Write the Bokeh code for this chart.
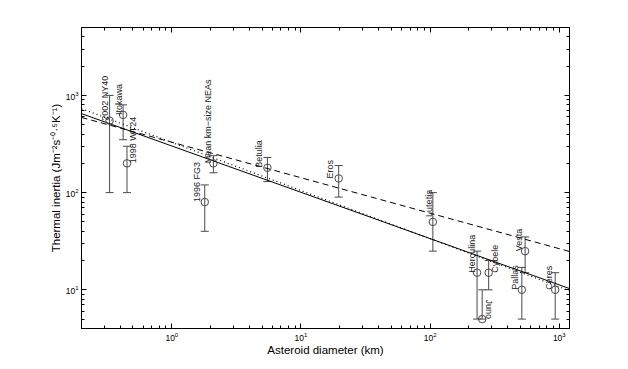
import math
from bokeh.plotting import figure
from bokeh.models import (ColumnDataSource, Whisker, TeeHead, LogAxis, FixedTicker,
                          CustomJSTickFormatter, Range1d)
from bokeh.embed import file_html
from bokeh.resources import INLINE
from bokeh.core.properties import value

# ---- data ----
names = ["2002 NY40", "Itokawa", "1998 WT24", "1996 FG3", "Mean km\u2212size NEAs",
         "Betulia", "Eros", "Lutetia", "Herculina", "Juno", "Cybele", "Pallas",
         "Vesta", "Ceres"]
diameter = [0.33, 0.42, 0.45, 1.8, 2.1, 5.5, 19.6, 105, 231, 253, 284, 513, 544, 930]
inertia = [550, 630, 200, 80, 200, 180, 140, 50, 15, 5, 15, 10, 25, 10]
err_low = [100, 350, 100, 40, 160, 130, 90, 25, 5, 5, 10, 5, 15, 5]
err_high = [1000, 800, 300, 120, 240, 230, 190, 100, 25, 10, 20, 17, 35, 15]

# fitted power-law lines, end values read at the axis limits
line_x = [0.2, 1200]
fit_solid = [650, 10.3]
fit_dashed = [594, 24.8]
fit_dotted = [730, 9.8]

x_limits = (0.2, 1200)
y_limits = (4, 5000)

# ---- label styling (orientation / offsets in screen pixels) ----
label_down = [False] * 9 + [True] + [False] * 4     # Juno reads top-to-bottom
label_dx = [-5, -4, 6, -7.5, -5, -8.5, -9, -4, -5.5, 6.5, 6, -6.4, -6, -6]
label_dy = [0, 0, 0, 0, 0, 0, 0, -5, 0, 0, 0, 0, 0, 0]

FONT = "Liberation Sans"
GREY = "#4a4a4a"

p = figure(width=628, height=369, x_axis_type="log", y_axis_type="log",
           x_range=Range1d(*x_limits), y_range=Range1d(*y_limits),
           output_backend="svg", toolbar_location=None,
           min_border_left=81, min_border_right=59, min_border_top=27,
           min_border_bottom=41)
p.grid.visible = False
p.background_fill_color = "white"
p.border_fill_color = "white"
p.outline_line_color = "black"
p.outline_line_width = 1

major = [10.0 ** k for k in range(-1, 5)]
minor = [m * 10.0 ** k for k in range(-1, 4) for m in range(2, 10)]


def style_axis(ax, labels=True):
    ax.ticker = FixedTicker(ticks=major, minor_ticks=minor)
    ax.major_tick_in = 5
    ax.major_tick_out = 0
    ax.minor_tick_in = 3
    ax.minor_tick_out = 0
    ax.axis_line_color = "black"
    ax.major_tick_line_color = "black"
    ax.minor_tick_line_color = "black"
    ax.major_label_text_font = FONT
    ax.major_label_text_font_size = "8.5px"
    ax.major_label_text_color = "black"
    ax.major_label_standoff = 3
    if not labels:
        ax.formatter = CustomJSTickFormatter(code="return ''")


style_axis(p.xaxis[0])
style_axis(p.yaxis[0])
p.xaxis.axis_label = "Asteroid diameter (km)"
p.yaxis.axis_label = "Thermal inertia (Jm\u207b\u00b2s\u207b\u2070\u00b7\u2075K\u207b\u00b9)"
for ax in (p.xaxis[0], p.yaxis[0]):
    ax.axis_label_text_font = FONT
    ax.axis_label_text_font_size = "11.5px"
    ax.axis_label_text_font_style = "normal"
    ax.axis_label_text_color = "black"
p.xaxis.axis_label_standoff = 0
p.yaxis.axis_label_standoff = 1

top_ax = LogAxis()
right_ax = LogAxis()
style_axis(top_ax, labels=False)
style_axis(right_ax, labels=False)
p.add_layout(top_ax, "above")
p.add_layout(right_ax, "right")

# fit lines
p.line(line_x, fit_solid, line_color="black", line_width=1)
p.line(line_x, fit_dashed, line_color="black", line_width=1, line_dash="6 4")
p.line(line_x, fit_dotted, line_color="black", line_width=1.2, line_dash="1 3")

src = ColumnDataSource(dict(d=diameter, t=inertia, lo=err_low, hi=err_high))

w = Whisker(source=src, base="d", upper="hi", lower="lo", dimension="height",
            line_color=GREY, line_width=1,
            upper_head=TeeHead(size=8, line_color=GREY, line_width=1),
            lower_head=TeeHead(size=8, line_color=GREY, line_width=1))
p.add_layout(w)

p.scatter("d", "t", source=src, marker="circle", size=7.5, fill_color=None,
          line_color=GREY, line_width=1)


def label_source(down):
    idx = [i for i, dflag in enumerate(label_down) if dflag == down]
    return ColumnDataSource(dict(d=[diameter[i] for i in idx],
                                 t=[inertia[i] for i in idx],
                                 name=[names[i] for i in idx],
                                 dx=[label_dx[i] for i in idx],
                                 dy=[label_dy[i] for i in idx]))


p.text("d", "t", text="name", source=label_source(False), angle=math.pi / 2,
       x_offset="dx", y_offset="dy", text_align="left", text_baseline="middle",
       text_font=value(FONT), text_font_size="9px", text_color="#222222")
p.text("d", "t", text="name", source=label_source(True), angle=-math.pi / 2,
       x_offset="dx", y_offset="dy", text_align="right", text_baseline="middle",
       text_font=value(FONT), text_font_size="9px", text_color="#222222")

open("out.html", "w").write(file_html(p, INLINE))
